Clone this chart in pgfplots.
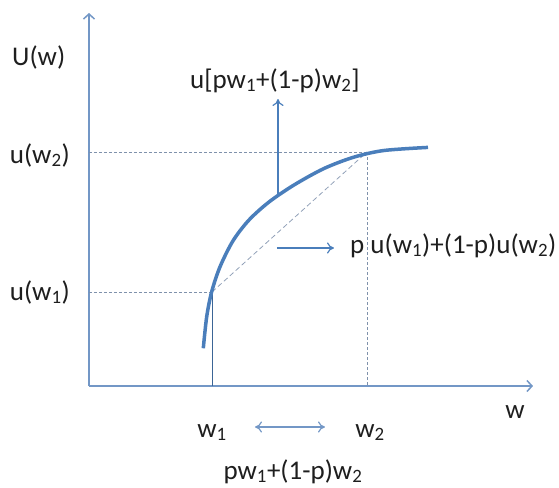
\documentclass[border=0pt]{standalone}
\usepackage{fontspec}
\setmainfont{Carlito}
\usepackage{pgfplots}
\pgfplotsset{compat=1.18}
\usetikzlibrary{arrows.meta}

\definecolor{curveblue}{HTML}{4A7EBB}
\definecolor{axisblue}{HTML}{7397C6}
\definecolor{guide}{HTML}{7F91AB}
\definecolor{txt}{HTML}{1E1E1E}

\begin{document}
\begin{tikzpicture}[lab/.style={text=txt, inner sep=0pt, font=\fontsize{27bp}{31bp}\selectfont}]
	% page = 559 x 488 px, one unit = 1 bp
	\useasboundingbox (-89bp,-102bp) rectangle (470bp,386bp);
	\begin{axis}[
		x=1bp, y=1bp,
		xmin=0, xmax=444,
		ymin=0, ymax=373,
		enlargelimits=false,
		axis lines=left,
		axis line style={axisblue, line width=2bp, -{Straight Barb[length=5bp,width=11bp,line width=1.5bp]}},
		xtick=\empty, ytick=\empty,
		clip=false,
		]
		% guide lines
		\addplot [guide, thin, dash pattern=on 3bp off 2bp] coordinates {(0,234) (278,234)};
		\addplot [guide, thin, dash pattern=on 3bp off 2bp] coordinates {(278,234) (278,0)};
		\addplot [guide, thin, dash pattern=on 3bp off 2bp] coordinates {(0,94) (123,94)};
		\addplot [guide!85, line width=0.8bp, dash pattern=on 5bp off 3bp] coordinates {(123,94) (278,234)};
		\addplot [curveblue!80!black, line width=0.8bp] coordinates {(123,0) (123,94)};
		% utility curve
		\addplot [curveblue, line width=3.5bp, smooth] coordinates {
			(114.3,37.7) (117.7,69.3) (122.7,94.3) (131,119.2) (144,145.2)
			(160,166) (180,184) (205,201) (235,217.5) (265,228.9)
			(295,235.5) (339,238.6)
		};
		% arrows
		\addplot [curveblue, line width=1.2bp, -{To[length=7bp,width=11bp]}] coordinates {(189,189) (189,287)};
		\addplot [curveblue, line width=1.2bp, -{To[length=7bp,width=11bp]}] coordinates {(188,138) (245,138)};
		\addplot [axisblue, line width=1.2bp, {To[length=7bp,width=11bp]}-{To[length=7bp,width=11bp]}] coordinates {(166,-41) (236,-41)};
		% labels
		\node[lab, anchor=base west] at (axis cs:-77,321) {U(w)};
		\node[lab, anchor=base east] at (axis cs:-19,223) {u(w\textsubscript{2})};
		\node[lab, anchor=base east] at (axis cs:-19,86) {u(w\textsubscript{1})};
		\node[lab, anchor=base west] at (axis cs:101,298) {u[pw\textsubscript{1}+(1-p)w\textsubscript{2}]};
		\node[lab, anchor=base west] at (axis cs:261,133) {p u(w\textsubscript{1})+(1-p)u(w\textsubscript{2})};
		\node[lab, anchor=base] at (axis cs:426,-32) {w};
		\node[lab, anchor=base] at (axis cs:123,-51) {w\textsubscript{1}};
		\node[lab, anchor=base] at (axis cs:281,-51) {w\textsubscript{2}};
		\node[lab, anchor=base] at (axis cs:204,-93) {pw\textsubscript{1}+(1-p)w\textsubscript{2}};
	\end{axis}
\end{tikzpicture}
\end{document}
